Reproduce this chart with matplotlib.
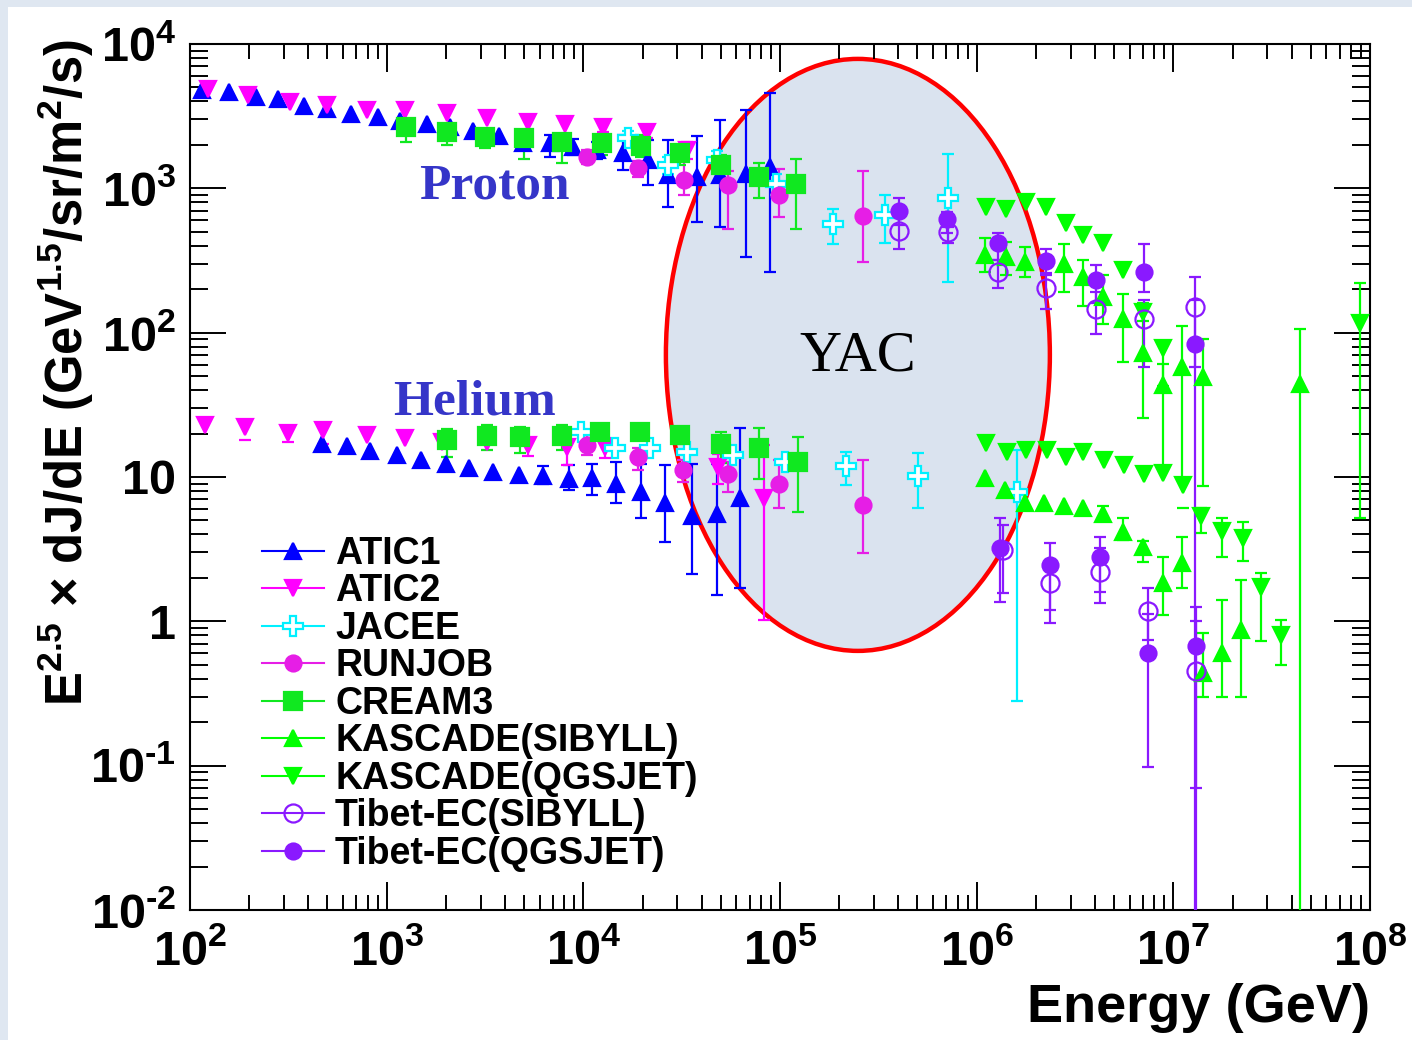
import numpy as np
import matplotlib
matplotlib.use("Agg")
import matplotlib.pyplot as plt
from matplotlib.lines import Line2D
from matplotlib.patches import Ellipse, Rectangle
from matplotlib.ticker import LogLocator, NullFormatter

nan = np.nan

# ---- values: E (GeV), E^2.5 dJ/dE, error band (hi / lo) ----
atic1_p_E = [115, 158, 217, 281, 380, 496, 656, 906, 1170, 1610, 2100, 2760, 3730, 4930,
             6760, 8850, 11700, 15950, 21400, 27000, 37700, 49500, 66800, 88900]
atic1_p_F = [4800, 4680, 4320, 4140, 3720, 3530, 3280, 3110, 2940, 2790, 2670, 2510, 2310, 2070,
             2050, 1940, 1840, 1750, 1570, 1240, 1190, 1240, 1250, 1410]
atic1_p_hi = [nan] * 14 + [2340, 2200, 2100, 2340, 2160, 2160, 2320, 2970, 3490, 4550]
atic1_p_lo = [nan] * 14 + [1660, 1700, 1600, 1340, 1050, 746, 582, 537, 336, 264]

atic1_he_E = [468, 627, 823, 1130, 1490, 2000, 2630, 3460, 4720,
              6250, 8470, 11100, 14600, 19600, 26000, 35600, 47600, 62500]
atic1_he_F = [16.9, 16.4, 15.2, 14.2, 13.1, 12.4, 11.5, 10.9, 10.3,
              10.2, 9.64, 9.8, 8.93, 7.91, 6.58, 5.37, 5.54, 7.21]
atic1_he_hi = [nan] * 9 + [11.9, 12.1, 12.4, 12.8, 12.4, 12.1, 12.4, 12.4, 21.7]
atic1_he_lo = [nan] * 9 + [8.9, 8.1, 7.5, 6.6, 5.2, 3.52, 2.12, 1.52, 1.69]

atic2_p_E = [124, 198, 322, 496, 791, 1240, 2020, 3220, 5250, 8060, 12600, 21000, 33500]
atic2_p_F = [4850, 4440, 3990, 3780, 3490, 3490, 3310, 3060, 2900, 2790, 2670, 2470, 1840]
atic2_p_hi = [nan] * 10 + [2900, 2700, 2100]
atic2_p_lo = [nan] * 10 + [2450, 2250, 1600]

atic2_he_E = [119, 190, 316, 476, 791, 1240, 1910, 3220, 5250, 8220, 12900, 48500, 83100]
atic2_he_F = [22.9, 22.1, 20.1, 21.2, 19.6, 18.6, 17.6, 17.6, 16.7, 16.2, 16.2, 11.8, 7.1]
atic2_he_hi = [nan, nan, nan, 23.0, nan, nan, nan, nan, 18.5, 18.0, 18.5, 14.5, 16.7]
atic2_he_lo = [nan, 18.0, 17.5, 17.0, nan, nan, nan, nan, 14.0, 12.1, 13.5, 9.0, 1.02]

jacee_p_E = [16900, 27000, 47600, 95900, 186500, 341000, 716000]
jacee_p_F = [2220, 1450, 1570, 1080, 566, 653, 853]
jacee_p_hi = [2500, 1650, 1800, 1250, 719, 900, 1720]
jacee_p_lo = [1950, 1250, 1350, 900, 409, 420, 225]

jacee_he_E = [9720, 14500, 21800, 33500, 57800, 106000, 216000, 501000, 1.60e6]
jacee_he_F = [20.5, 15.8, 15.8, 15.0, 14.2, 12.8, 11.9, 10.2, 7.9]
jacee_he_hi = [nan] * 6 + [15.0, 14.6, 15.3]
jacee_he_lo = [nan] * 6 + [8.8, 6.1, 0.28]

runjob_p_E = [10400, 19000, 32400, 54600, 99100, 265000]
runjob_p_F = [1660, 1380, 1140, 1050, 900, 643]
runjob_p_hi = [1850, 1550, 1650, 1320, 1360, 1320]
runjob_p_lo = [1480, 1200, 900, 520, 630, 311]

runjob_he_E = [10400, 19000, 32200, 54600, 99100, 265000]
runjob_he_F = [16.7, 13.8, 11.2, 10.5, 8.94, 6.4]
runjob_he_hi = [19.5, 15.9, 13.1, 12.8, 13.1, 13.1]
runjob_he_lo = [14.2, 11.2, 9.2, 7.9, 6.07, 2.99]

cream_p_E = [1250, 2020, 3160, 4990, 7760, 12400, 19600, 31000, 50100, 78100, 121000]
cream_p_F = [2670, 2470, 2280, 2220, 2110, 2050, 1960, 1750, 1450, 1190, 1070]
cream_p_hi = [2900, 2800, 2500, 2400, 2300, 2300, 2340, 1950, 1700, 1510, 1590]
cream_p_lo = [2100, 2000, 1900, 1600, 1500, 1700, 1660, 1450, 1110, 853, 520]

cream_he_E = [2020, 3220, 4760, 7760, 12100, 19400, 31000, 50100, 78100, 124000]
cream_he_F = [18.0, 19.2, 18.8, 19.2, 20.6, 20.6, 19.5, 16.9, 15.8, 12.8]
cream_he_hi = [21.4, 22.9, 22.3, 22.9, 22.5, 22.5, 21.5, 20.6, 21.7, 19.0]
cream_he_lo = [13.8, 15.4, 14.6, 15.4, 18.5, 18.5, 17.0, 12.5, 9.64, 5.76]

kas_sib_p_E = [1.10e6, 1.41e6, 1.76e6, 2.78e6, 3.48e6, 4.40e6, 5.56e6, 6.98e6, 8.81e6, 1.11e7, 1.41e7, 4.43e7]
kas_sib_p_F = [345, 333, 310, 299, 242, 178, 124, 72.6, 43.4, 57.5, 49.5, 44]
kas_sib_p_hi = [451, 427, 394, 409, 318, 251, 185, 153, 61, 111, 91, 105.5]
kas_sib_p_lo = [264, 251, 244, 190, 153, 115, 63, 25.6, 11.5, 9.5, 8.7, 1e-3]

kas_qgs_p_E = [1.12e6, 1.41e6, 1.79e6, 2.25e6, 2.84e6, 3.48e6, 4.40e6, 5.52e6, 6.97e6, 8.81e6, 8.87e7]
kas_qgs_p_F = [746, 716, 808, 746, 578, 475, 416, 272, 140, 78, 117]
kas_qgs_p_hi = [nan] * 8 + [160, 84, 221]
kas_qgs_p_lo = [nan] * 8 + [120, 43, 5.2]

kas_sib_he_E = [1.10e6, 1.39e6, 1.76e6, 2.20e6, 2.78e6, 3.48e6, 4.40e6, 5.56e6, 6.98e6,
                8.81e6, 1.11e7, 1.42e7, 1.77e7, 2.22e7]
kas_sib_he_F = [9.8, 8.13, 6.64, 6.64, 6.29, 6.07, 5.54, 4.18, 3.29, 1.85, 2.55, 0.436, 0.607, 0.871]
kas_sib_he_hi = [nan] * 6 + [6.3, 5.2, 3.6, 2.78, 3.82, 0.83, 1.41, 1.93]
kas_sib_he_lo = [nan] * 6 + [5.1, 3.66, 2.59, 1.11, 1.69, 0.30, 0.30, 0.30]

kas_qgs_he_E = [1.12e6, 1.42e6, 1.78e6, 2.27e6, 2.84e6, 3.48e6, 4.44e6, 5.62e6, 7.11e6, 8.88e6,
                1.12e7, 1.39e7, 1.76e7, 2.25e7, 2.79e7, 3.51e7]
kas_qgs_he_F = [17.1, 14.96, 15.4, 15.4, 13.8, 14.96, 13.1, 12.1, 10.5, 10.7,
                8.81, 5.37, 4.25, 3.76, 1.72, 0.80]
kas_qgs_he_hi = [nan] * 10 + [nan, 6.07, 5.17, 4.90, 2.17, 1.02]
kas_qgs_he_lo = [nan] * 10 + [6.07, 4.07, 2.78, 2.63, 0.73, 0.50]

tib_sib_p_E = [4.04e5, 7.11e5, 1.28e6, 2.25e6, 4.04e6, 7.11e6, 1.29e7]
tib_sib_p_F = [508, 501, 264, 203, 145, 124, 151]
tib_sib_p_hi = [653, 542, 318, 258, 192, 168, 244]
tib_sib_p_lo = [378, 416, 203, 145, 98, 58, 1e-3]

tib_qgs_p_E = [4.04e5, 7.03e5, 1.28e6, 2.25e6, 4.04e6, 7.11e6, 1.29e7]
tib_qgs_p_F = [700, 613, 420, 313, 232, 264, 84]
tib_qgs_p_hi = [853, 689, 493, 380, 294, 409, 168]
tib_qgs_p_lo = [557, 490, 318, 250, 160, 190, 58]

tib_sib_he_E = [1.36e6, 2.36e6, 4.23e6, 7.45e6, 1.31e7]
tib_sib_he_F = [3.12, 1.83, 2.21, 1.17, 0.453]
tib_sib_he_hi = [4.64, 2.66, 3.22, 1.69, 1.0]
tib_sib_he_lo = [1.57, 1.20, 1.60, 0.74, 1e-3]

tib_qgs_he_E = [1.32e6, 2.36e6, 4.23e6, 7.45e6, 1.31e7]
tib_qgs_he_F = [3.21, 2.46, 2.81, 0.607, 0.674]
tib_qgs_he_hi = [5.17, 3.49, 3.86, 1.13, 1.26]
tib_qgs_he_lo = [1.37, 0.98, 1.33, 0.098, 0.070]

legend_labels = ["ATIC1", "ATIC2", "JACEE", "RUNJOB", "CREAM3", "KASCADE(SIBYLL)",
                 "KASCADE(QGSJET)", "Tibet-EC(SIBYLL)", "Tibet-EC(QGSJET)"]
x_ticks = [1e2, 1e3, 1e4, 1e5, 1e6, 1e7, 1e8]
x_tick_labels = [r"$10^{2}$", r"$10^{3}$", r"$10^{4}$", r"$10^{5}$", r"$10^{6}$", r"$10^{7}$", r"$10^{8}$"]
y_ticks = [1e-2, 1e-1, 1, 10, 1e2, 1e3, 1e4]
y_tick_labels = [r"$10^{\text{-}2}$", r"$10^{\text{-}1}$", "1", "10",
                 r"$10^{2}$", r"$10^{3}$", r"$10^{4}$"]

plt.rcParams["font.family"] = ["Liberation Sans", "DejaVu Sans"]
plt.rcParams["mathtext.fontset"] = "custom"
plt.rcParams["mathtext.rm"] = "Liberation Sans:bold"
plt.rcParams["mathtext.bf"] = "Liberation Sans:bold"
plt.rcParams["mathtext.it"] = "Liberation Sans:bold"
plt.rcParams["mathtext.default"] = "rm"

BLUE = "#0000ff"
MAG = "#ff00ff"
RUNC = "#e61ee6"
CYAN = "#00f0ff"
GREEN = "#00ff00"
SQG = "#10e820"
PURP = "#8a19ff"

fig = plt.figure(figsize=(14.12, 10.4), dpi=100, facecolor="#dfe7f1")
fig.patches.append(Rectangle((8 / 1412, 0), 1, 1 - 7 / 1040, transform=fig.transFigure,
                             facecolor="white", edgecolor="none", zorder=-5))
ax = fig.add_axes([190 / 1412, 1 - 910 / 1040, 1180 / 1412, 866 / 1040])
ax.set_facecolor("white")

# the YAC ellipse sits in screen space, not data space
ax.add_patch(Ellipse((0.566, 0.641), 0.3254, 0.6836, transform=ax.transAxes,
                     facecolor="#dae3ef", edgecolor="#ff0000", lw=3.2, zorder=1))


def draw(E, F, hi, lo, color, marker, ms, mfc):
    E = np.asarray(E, float)
    F = np.asarray(F, float)
    hi = np.asarray(hi, float)
    lo = np.asarray(lo, float)
    yerr = np.vstack([F - lo, hi - F])
    ax.errorbar(E, F, yerr=yerr, fmt="none", ecolor=color, elinewidth=1.6,
                capsize=4, capthick=1.6, zorder=3)
    ax.plot(E, F, ls="none", marker=marker, ms=ms, color=color, mfc=mfc,
            mec=color, mew=1.6, zorder=4)


styles = [
    (BLUE, "^", 12, BLUE),
    (MAG, "v", 12, MAG),
    (CYAN, "P", 14, "white"),
    (RUNC, "o", 11.5, RUNC),
    (SQG, "s", 12.5, SQG),
    (GREEN, "^", 12, GREEN),
    (GREEN, "v", 12, GREEN),
    (PURP, "o", 13, "none"),
    (PURP, "o", 11.5, PURP),
]

series = [
    (0, atic1_p_E, atic1_p_F, atic1_p_hi, atic1_p_lo),
    (0, atic1_he_E, atic1_he_F, atic1_he_hi, atic1_he_lo),
    (1, atic2_p_E, atic2_p_F, atic2_p_hi, atic2_p_lo),
    (1, atic2_he_E, atic2_he_F, atic2_he_hi, atic2_he_lo),
    (2, jacee_p_E, jacee_p_F, jacee_p_hi, jacee_p_lo),
    (2, jacee_he_E, jacee_he_F, jacee_he_hi, jacee_he_lo),
    (3, runjob_p_E, runjob_p_F, runjob_p_hi, runjob_p_lo),
    (3, runjob_he_E, runjob_he_F, runjob_he_hi, runjob_he_lo),
    (4, cream_p_E, cream_p_F, cream_p_hi, cream_p_lo),
    (4, cream_he_E, cream_he_F, cream_he_hi, cream_he_lo),
    (5, kas_sib_p_E, kas_sib_p_F, kas_sib_p_hi, kas_sib_p_lo),
    (5, kas_sib_he_E, kas_sib_he_F, kas_sib_he_hi, kas_sib_he_lo),
    (6, kas_qgs_p_E, kas_qgs_p_F, kas_qgs_p_hi, kas_qgs_p_lo),
    (6, kas_qgs_he_E, kas_qgs_he_F, kas_qgs_he_hi, kas_qgs_he_lo),
    (7, tib_sib_p_E, tib_sib_p_F, tib_sib_p_hi, tib_sib_p_lo),
    (7, tib_sib_he_E, tib_sib_he_F, tib_sib_he_hi, tib_sib_he_lo),
    (8, tib_qgs_p_E, tib_qgs_p_F, tib_qgs_p_hi, tib_qgs_p_lo),
    (8, tib_qgs_he_E, tib_qgs_he_F, tib_qgs_he_hi, tib_qgs_he_lo),
]
for k, E, F, hi, lo in series:
    c, m, ms, fc = styles[k]
    draw(E, F, hi, lo, c, m, ms, fc)

ax.set_xscale("log")
ax.set_yscale("log")
ax.set_xlim(1e2, 1e8)
ax.set_ylim(1e-2, 1e4)
ax.set_xticks(x_ticks, labels=x_tick_labels)
ax.set_yticks(y_ticks, labels=y_tick_labels)
for a in (ax.xaxis, ax.yaxis):
    a.set_minor_locator(LogLocator(base=10, subs=np.arange(2, 10) * 1.0, numticks=50))
    a.set_minor_formatter(NullFormatter())
for lab in ax.get_xticklabels() + ax.get_yticklabels():
    lab.set_fontsize(35)
    lab.set_fontweight("bold")
ax.tick_params(which="both", direction="in", top=True, right=True, width=1.4, color="black")
ax.tick_params(axis="y", which="major", length=26, pad=10)
ax.tick_params(axis="y", which="minor", length=13)
ax.tick_params(axis="x", which="major", length=20, pad=14)
ax.tick_params(axis="x", which="minor", length=11)
for sp in ax.spines.values():
    sp.set_linewidth(1.5)

ax.text(1.0, -0.113, "Energy (GeV)", transform=ax.transAxes, ha="right", va="center",
        fontsize=39, fontweight="bold")
ax.text(-0.105, 1.005, r"E$^{2.5}$ $\times$ dJ/dE (GeV$^{1.5}$/sr/m$^{2}$/s)", transform=ax.transAxes,
        rotation=90, ha="center", va="top", fontsize=36.5, fontweight="bold")

ax.text(0.2576, 0.8349, "Proton", transform=ax.transAxes, ha="center", va="center",
        family="Liberation Serif", fontweight="bold", fontsize=37, color="#3535c8", zorder=6)
ax.text(0.2407, 0.5855, "Helium", transform=ax.transAxes, ha="center", va="center",
        family="Liberation Serif", fontweight="bold", fontsize=37, color="#3535c8", zorder=6)
ax.text(0.5661, 0.6386, "YAC", transform=ax.transAxes, ha="center", va="center",
        family="Liberation Serif", fontsize=42, color="black", zorder=6)

handles = [Line2D([], [], color=c, marker=m, ms=ms, mfc=fc, mec=c, mew=1.6, lw=1.5)
           for c, m, ms, fc in styles]
ax.legend(handles, legend_labels, loc="upper left", bbox_to_anchor=(0.061, 0.432),
          frameon=False, prop={"family": "Liberation Sans", "weight": "bold", "size": 27},
          handlelength=1.65, handletextpad=0.3, labelspacing=0.04, borderpad=0,
          borderaxespad=0)

fig.savefig("out.png", dpi=100, facecolor=fig.get_facecolor())
